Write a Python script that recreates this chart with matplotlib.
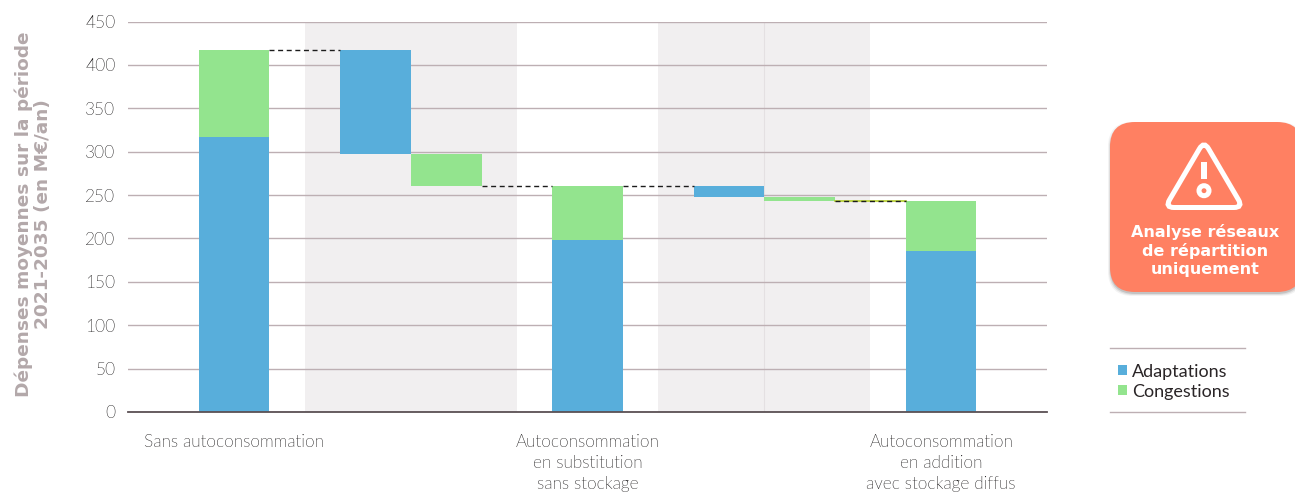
import matplotlib
matplotlib.use("Agg")
import matplotlib.pyplot as plt
from matplotlib import font_manager as fm
from matplotlib.patches import FancyBboxPatch, PathPatch, Circle, Rectangle
from matplotlib.path import Path
from matplotlib.lines import Line2D

# Waterfall steps, one per slot on the category axis
slots = list(range(13))
adapt_bottom = [0, 0, 0, 297.5, 0, 0, 0, 0, 248, 0, 0, 0, 0]
adapt_height = [0, 317, 0, 119.5, 0, 0, 198.5, 0, 13, 0, 0, 186, 0]
cong_bottom = [0, 317, 0, 0, 261, 0, 198.5, 0, 0, 243, 0, 186, 0]
cong_height = [0, 100, 0, 0, 36.5, 0, 62.5, 0, 0, 5, 0, 57, 0]

# Dashed links between steps: (slot, level)
link_slots = [2, 5, 7, 10]
link_levels = [417, 261, 261, 243]

# Shaded ranges on the category axis
band_ranges = [(2.0, 5.0), (7.0, 10.0)]

y_ticks = list(range(0, 451, 50))
category_slots = [1, 6, 11]
category_labels = ["Sans autoconsommation",
                   "Autoconsommation\nen substitution\nsans stockage",
                   "Autoconsommation\nen addition\navec stockage diffus"]
legend_names = ["Adaptations", "Congestions"]

BLUE = "#58aedb"
GREEN = "#93e48e"
GRID = "#bdafb3"
BAND = "#f1eff0"
AXIS = "#5b5054"
MUTED = "#b3a8aa"
CORAL = "#ff8062"
TEXT = "#0f0d0e"


def light_font(size):
    """Lato Light when its file is available, regular Lato otherwise."""
    for f in fm.fontManager.ttflist:
        stem = f.fname.rsplit("/", 1)[-1].lower()
        if "lato" in stem and "light" in stem and "italic" not in stem:
            return fm.FontProperties(fname=f.fname, size=size)
    return fm.FontProperties(family="Lato", size=size)


W, H = 1295, 492
fig = plt.figure(figsize=(W / 100, H / 100), dpi=100, facecolor="white")
ax = fig.add_axes([128 / W, 1 - 412 / H, (1047.2 - 128) / W, (412 - 21.5) / H])
ax.set_xlim(-0.5, 12.5)
ax.set_ylim(0, 450)
ax.set_facecolor("none")

for a, b in band_ranges:
    ax.axvspan(a, b, color=BAND, lw=0, zorder=0)
ax.axvline(8.5, color="#e4e0e2", lw=0.8, zorder=0.5)

ax.set_yticks(y_ticks)
ax.yaxis.grid(True, color=GRID, lw=1.0, zorder=1)
ax.xaxis.grid(False)
ax.set_axisbelow(True)

ax.bar(slots, adapt_height, width=1.0, bottom=adapt_bottom, color=BLUE, lw=0, zorder=3)
ax.bar(slots, cong_height, width=1.0, bottom=cong_bottom, color=GREEN, lw=0, zorder=3)

for s, lvl in zip(link_slots, link_levels):
    if s == 10:
        ax.plot([s - 0.5, s + 0.5], [lvl, lvl], color="#b5cf2a", lw=1.2, zorder=3.5)
    ax.plot([s - 0.5, s + 0.5], [lvl, lvl], color="#1c1c1c", lw=1.0,
            dashes=(3.6, 2.6), zorder=4)

for side in ("top", "right", "left"):
    ax.spines[side].set_visible(False)
ax.spines["bottom"].set_color(AXIS)
ax.spines["bottom"].set_linewidth(1.3)
ax.spines["bottom"].set_zorder(5)

ax.tick_params(axis="y", length=0, pad=9, labelcolor=TEXT)
for t in ax.get_yticklabels():
    t.set_fontproperties(light_font(12.4))

ax.set_xticks(category_slots)
ax.set_xticklabels(category_labels, color=TEXT, linespacing=1.38, va="top")
for t in ax.get_xticklabels():
    t.set_fontproperties(light_font(12.4))
ax.tick_params(axis="x", length=0, pad=16)

# Overlay in pixel coordinates for the badge, legend and axis title
ov = fig.add_axes([0, 0, 1, 1], zorder=10)
ov.set_xlim(0, W)
ov.set_ylim(H, 0)
ov.axis("off")
ov.patch.set_alpha(0)

ov.text(33.5, 214, "Dépenses moyennes sur la période\n2021-2035 (en M€/an)", rotation=90,
        ha="center", va="center", multialignment="center", fontsize=13.3,
        fontweight="bold", color=MUTED, family="DejaVu Sans", linespacing=1.07)

# Badge with a soft shadow along its lower edge
box_r = 25
for grow, alpha in ((3.0, 0.06), (2.0, 0.10), (1.0, 0.16)):
    ov.add_patch(FancyBboxPatch((1110 + box_r, 122 + box_r + 2), 192 - 2 * box_r, 170 - 2 * box_r,
                                boxstyle=f"round,pad={box_r + grow - 1},rounding_size={box_r}",
                                fc="#333333", ec="none", alpha=alpha, zorder=1))
ov.add_patch(FancyBboxPatch((1110 + box_r, 122 + box_r), 192 - 2 * box_r, 170 - 2 * box_r,
                            boxstyle=f"round,pad={box_r},rounding_size={box_r}",
                            fc=CORAL, ec="none", zorder=2))

# Warning triangle with rounded corners
apex, right, left = (1204, 141.0), (1243, 207.5), (1165, 207.5)


def toward(p, q, d):
    length = ((q[0] - p[0]) ** 2 + (q[1] - p[1]) ** 2) ** 0.5
    return (p[0] + (q[0] - p[0]) * d / length, p[1] + (q[1] - p[1]) * d / length)


corners = [apex, right, left]
verts, codes = [], []
for i, c in enumerate(corners):
    prev_c, next_c = corners[i - 1], corners[(i + 1) % 3]
    verts += [toward(c, prev_c, 9), c, toward(c, next_c, 9)]
    codes += [Path.MOVETO if i == 0 else Path.LINETO, Path.CURVE3, Path.CURVE3]
verts.append(verts[0])
codes.append(Path.CLOSEPOLY)
ov.add_patch(PathPatch(Path(verts, codes), fc="none", ec="white", lw=3.6, zorder=3))
ov.add_patch(Rectangle((1201, 162), 6, 17, fc="white", ec="none", zorder=3))
ov.add_patch(Circle((1204, 190.7), 5.0, fc="none", ec="white", lw=3.6, zorder=3))

ov.text(1205, 250.5, "Analyse réseaux\nde répartition\nuniquement", ha="center", va="center",
        fontsize=11.5, fontweight="bold", color="white", family="DejaVu Sans", linespacing=1.26,
        zorder=3)

# Legend block between two rules
for y in (347.5, 411.5):
    ov.add_line(Line2D([1110, 1245], [y, y], color=GRID, lw=1.0))
for y, col, name in zip((370, 390), (BLUE, GREEN), legend_names):
    ov.add_patch(Rectangle((1118, y - 5), 9, 10, fc=col, ec="none"))
    ov.text(1132, y + 1.5, name, va="center", ha="left", color="#2a2527",
            fontproperties=fm.FontProperties(family="Lato", size=13))

fig.savefig("out.png", dpi=100)
